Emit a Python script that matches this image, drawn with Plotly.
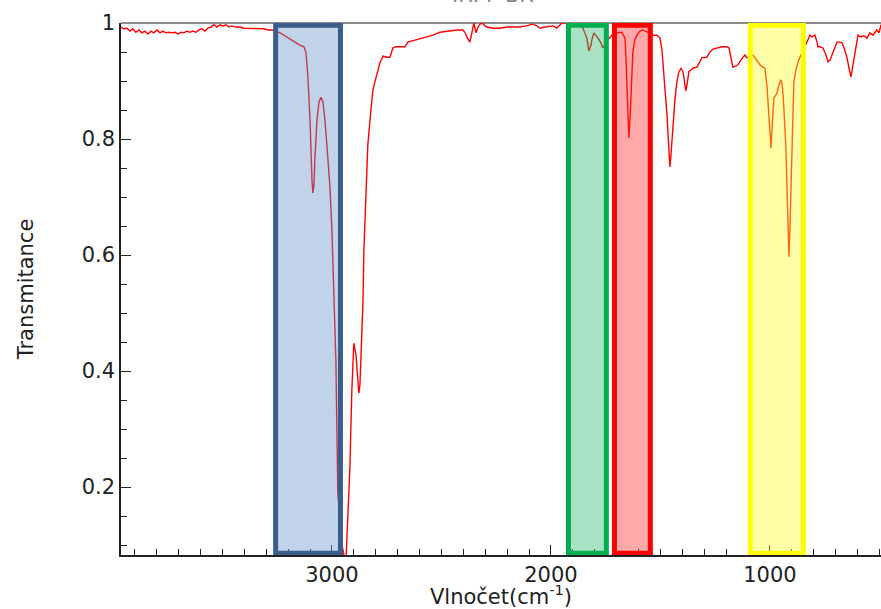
import plotly.graph_objects as go

# Spectrum data (wavenumber in cm^-1, transmittance)
wavenumber = [
    3963, 3950, 3936, 3922, 3909, 3895, 3881, 3868, 3854, 3840, 3826, 3813, 3799, 3785, 3772,
    3758, 3744, 3730, 3717, 3703, 3689, 3676, 3662, 3648, 3635, 3621, 3607, 3594, 3580, 3566,
    3552, 3539, 3525, 3511, 3498, 3484, 3470, 3457, 3438, 3420, 3402, 3384, 3365, 3347, 3329,
    3310, 3292, 3274, 3256, 3237, 3215, 3192, 3169, 3146, 3128, 3119, 3110, 3100, 3096, 3091,
    3087, 3082, 3078, 3068, 3059, 3050, 3041, 3032, 3023, 3009, 3000, 2991, 2982, 2973, 2963,
    2954, 2945, 2936, 2927, 2918, 2909, 2900, 2890, 2881, 2877, 2872, 2868, 2863, 2858, 2854,
    2849, 2840, 2836, 2826, 2817, 2813, 2804, 2790, 2781, 2767, 2749, 2735, 2722, 2708, 2690,
    2667, 2653, 2635, 2612, 2589, 2566, 2539, 2507, 2470, 2429, 2402, 2393, 2384, 2370, 2361,
    2356, 2352, 2342, 2333, 2324, 2315, 2301, 2292, 2265, 2233, 2201, 2174, 2142, 2114, 2082,
    2064, 2050, 2027, 2005, 1991, 1973, 1959, 1950, 1927, 1904, 1877, 1854, 1836, 1827, 1817,
    1813, 1804, 1795, 1785, 1772, 1763, 1753, 1740, 1722, 1699, 1676, 1662, 1658, 1653, 1648,
    1644, 1639, 1635, 1626, 1617, 1607, 1594, 1580, 1557, 1534, 1516, 1502, 1493, 1489, 1479,
    1470, 1461, 1457, 1452, 1443, 1434, 1425, 1416, 1406, 1397, 1388, 1384, 1379, 1370, 1361,
    1352, 1333, 1320, 1311, 1288, 1274, 1260, 1238, 1219, 1196, 1187, 1178, 1169, 1155, 1146,
    1133, 1123, 1114, 1105, 1091, 1078, 1059, 1046, 1032, 1023, 1014, 1009, 1005, 995, 991,
    986, 982, 973, 968, 959, 950, 945, 941, 936, 932, 927, 922, 918, 913, 909,
    904, 900, 895, 891, 881, 872, 863, 854, 836, 817, 808, 795, 785, 781, 772,
    758, 744, 735, 726, 717, 703, 694, 680, 671, 658, 648, 639, 630, 621, 612,
    603, 598, 585, 571, 557, 544, 530, 512, 502, 493,
]
transmittance = [
    0.993, 0.990, 0.991, 0.986, 0.990, 0.984, 0.988, 0.983, 0.986, 0.981, 0.986, 0.983, 0.988, 0.983, 0.986,
    0.983, 0.984, 0.983, 0.984, 0.981, 0.984, 0.983, 0.986, 0.984, 0.986, 0.984, 0.988, 0.990, 0.986, 0.991,
    0.993, 0.997, 0.993, 0.997, 0.995, 0.997, 0.993, 0.995, 0.993, 0.993, 0.991, 0.991, 0.990, 0.991, 0.990,
    0.990, 0.988, 0.988, 0.986, 0.983, 0.978, 0.972, 0.967, 0.962, 0.959, 0.950, 0.910, 0.833, 0.772, 0.729,
    0.707, 0.721, 0.764, 0.833, 0.864, 0.872, 0.864, 0.833, 0.790, 0.717, 0.643, 0.545, 0.419, 0.190, 0.134,
    0.100, 0.083, 0.071, 0.152, 0.234, 0.367, 0.448, 0.428, 0.376, 0.362, 0.376, 0.419, 0.471, 0.522, 0.609,
    0.660, 0.717, 0.790, 0.833, 0.871, 0.884, 0.898, 0.919, 0.931, 0.943, 0.941, 0.941, 0.957, 0.959, 0.959,
    0.959, 0.967, 0.969, 0.972, 0.974, 0.976, 0.979, 0.984, 0.986, 0.988, 0.988, 0.984, 0.976, 0.967, 0.983,
    0.991, 1.000, 0.983, 0.993, 0.998, 1.000, 0.995, 0.993, 0.991, 0.991, 0.993, 0.993, 0.993, 0.995, 0.998,
    0.995, 0.991, 0.993, 0.995, 0.995, 0.991, 0.997, 1.000, 1.000, 1.000, 0.997, 0.991, 0.974, 0.952, 0.962,
    0.971, 0.983, 0.979, 0.974, 0.966, 0.957, 0.962, 0.971, 0.979, 0.983, 0.984, 0.974, 0.945, 0.898, 0.841,
    0.802, 0.833, 0.871, 0.950, 0.971, 0.979, 0.986, 0.988, 0.984, 0.979, 0.979, 0.974, 0.953, 0.928, 0.884,
    0.841, 0.781, 0.752, 0.772, 0.824, 0.867, 0.898, 0.916, 0.922, 0.916, 0.893, 0.883, 0.893, 0.916, 0.919,
    0.922, 0.924, 0.933, 0.940, 0.941, 0.950, 0.955, 0.957, 0.959, 0.959, 0.957, 0.940, 0.924, 0.926, 0.928,
    0.936, 0.941, 0.945, 0.940, 0.941, 0.945, 0.936, 0.928, 0.924, 0.922, 0.893, 0.864, 0.824, 0.784, 0.816,
    0.850, 0.871, 0.876, 0.879, 0.893, 0.902, 0.895, 0.881, 0.850, 0.824, 0.784, 0.712, 0.643, 0.597, 0.643,
    0.703, 0.755, 0.833, 0.898, 0.919, 0.933, 0.941, 0.948, 0.962, 0.979, 0.976, 0.979, 0.967, 0.959, 0.959,
    0.957, 0.945, 0.933, 0.936, 0.945, 0.960, 0.967, 0.967, 0.966, 0.953, 0.940, 0.922, 0.907, 0.928, 0.950,
    0.967, 0.979, 0.976, 0.978, 0.974, 0.983, 0.979, 0.988, 0.983, 0.997,
]

# Highlighted regions (wavenumber bounds, transmittance bounds)
region_names = ["C-H", "C=O overtone", "C=C", "=C-H bend"]
region_x0 = [3257, 1920, 1710, 1090]
region_x1 = [2961, 1747, 1546, 847]
region_y0 = [0.086, 0.086, 0.086, 0.086]
region_y1 = [0.996, 0.996, 0.996, 0.996]
region_fill = ["rgba(97,145,197,0.4)", "rgba(37,187,107,0.4)", "rgba(255,37,37,0.4)", "rgba(255,255,37,0.4)"]
region_line = ["rgb(58,94,140)", "rgb(0,176,80)", "rgb(255,0,0)", "rgb(255,255,0)"]

x_range = [3963, 493]
y_range = [0.083, 1.0]

fig = go.Figure()
fig.add_trace(go.Scatter(
    x=wavenumber, y=transmittance, mode="lines",
    line=dict(color="#ff0000", width=1.4), showlegend=False, hoverinfo="x+y",
))

for x0, x1, y0, y1, fc, lc in zip(region_x0, region_x1, region_y0, region_y1, region_fill, region_line):
    fig.add_shape(type="rect", xref="x", yref="y", x0=x0, x1=x1, y0=y0, y1=y1,
                  fillcolor=fc, line=dict(color=lc, width=5), layer="above")

# top frame line (gray)
fig.add_shape(type="line", xref="paper", yref="paper", x0=0, x1=1, y0=1, y1=1,
              line=dict(color="#666666", width=1.5), layer="below")

font_main = dict(family="DejaVu Sans", size=21, color="#222222")

fig.add_annotation(text="IR: P-BR", xref="paper", yref="paper", x=0.49, y=1,
                   xanchor="center", yanchor="bottom", yshift=14, showarrow=False,
                   font=dict(family="DejaVu Sans", size=21, color="#888888"))

fig.update_layout(
    width=881, height=609,
    margin=dict(l=121, r=0, t=23, b=54),
    paper_bgcolor="white", plot_bgcolor="white",
    font=font_main,
    xaxis=dict(
        range=x_range, showgrid=False, zeroline=False, automargin=False,
        showline=True, linecolor="#222222", linewidth=1.5,
        ticks="inside", ticklen=10, tickwidth=1.3, tickcolor="#222222",
        tickvals=[1000, 2000, 3000], ticktext=["1000", "2000", "3000"],
        minor=dict(ticks="inside", dtick=100, ticklen=6, tickwidth=1.3, tickcolor="#222222"),
        tickfont=font_main,
        title=dict(text="Vlnočet(cm<sup>-1</sup>)", font=font_main, standoff=8),
    ),
    yaxis=dict(
        range=y_range, showgrid=False, zeroline=False, automargin=False,
        showline=True, linecolor="#222222", linewidth=1.5,
        ticks="inside", ticklen=10, tickwidth=1.3, tickcolor="#222222",
        tickvals=[0.2, 0.4, 0.6, 0.8, 1.0], ticktext=["0.2", "0.4", "0.6", "0.8", "1"],
        minor=dict(ticks="inside", dtick=0.05, tick0=0, ticklen=6, tickwidth=1.3, tickcolor="#222222"),
        tickfont=font_main,
        title=dict(text="Transmitance", font=font_main, standoff=42),
    ),
)

fig.write_html(
    "out.html",
    config={"displayModeBar": False},
    post_script="document.body.style.margin='0px'; document.body.style.overflow='hidden';",
)
